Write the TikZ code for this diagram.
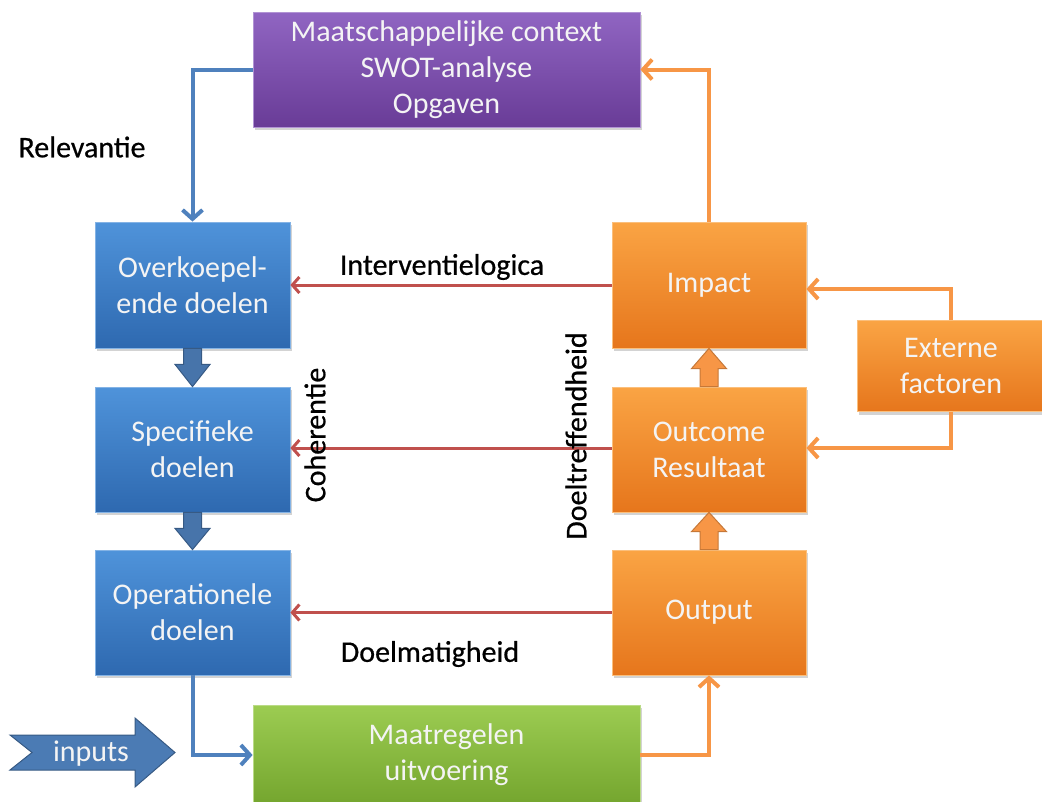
\documentclass[tikz,border=0pt]{standalone}
\usepackage{fontspec}
\setmainfont{Carlito}
\newfontfamily\lblfont[FakeBold=0.6]{Carlito}
\usetikzlibrary{arrows.meta,calc,shadows}
\definecolor{bluetop}{HTML}{4F93DA}
\definecolor{bluebot}{HTML}{2E69B0}
\definecolor{orgtop}{HTML}{FAA444}
\definecolor{orgbot}{HTML}{E6761C}
\definecolor{purtop}{HTML}{9065C2}
\definecolor{purbot}{HTML}{693C97}
\definecolor{grntop}{HTML}{9CCC52}
\definecolor{grnbot}{HTML}{74A52E}
\definecolor{bluecon}{HTML}{4F81BD}
\definecolor{orgcon}{HTML}{F79646}
\definecolor{redcon}{HTML}{C0504D}
\definecolor{boxtext}{HTML}{F4F4F4}
\begin{document}
\begin{tikzpicture}[x=1pt,y=-1pt,
  every node/.style={font=\fontsize{30}{36}\selectfont},
  box/.style={rectangle, align=center, text=boxtext, inner sep=0pt,
    drop shadow={opacity=0.35, shadow xshift=2pt, shadow yshift=-3pt}},
  bluebox/.style={box, top color=bluetop, bottom color=bluebot, draw=bluetop!70!white, line width=0.8pt},
  orgbox/.style={box, top color=orgtop, bottom color=orgbot, draw=orgtop!70!white, line width=0.8pt},
  purbox/.style={box, top color=purtop, bottom color=purbot, draw=purtop!70!white, line width=0.8pt},
  grnbox/.style={box, top color=grntop, bottom color=grnbot, draw=grntop!70!white, line width=0.8pt},
  lbl/.style={text=black, inner sep=0pt, font=\fontsize{30}{36}\selectfont\lblfont},
  tipbig/.style={-{Straight Barb[length=9pt,width=20pt,line width=4pt]}},
  bluelink/.style={draw=bluecon, line width=4pt, tipbig},
  orglink/.style={draw=orgcon, line width=4pt, tipbig},
  redlink/.style={draw=redcon, line width=3pt, -{Straight Barb[length=7pt,width=16pt,line width=3pt]}},
  fatblue/.style={fill=bluecon!90!black, draw=bluecon!70!black, line width=1pt, line join=miter},
  fatorg/.style={fill=orgcon, draw=orgcon!80!black, line width=1pt, line join=miter}
]
\useasboundingbox (0,0) rectangle (1042,801);

% boxes
\node[purbox, minimum width=387pt, minimum height=115pt] (ctx) at (446.5,69.5)
  {Maatschappelijke context\\SWOT-analyse\\Opgaven};
\node[bluebox, minimum width=195pt, minimum height=126pt] (ov) at (192.5,285) {Overkoepel-\\ende doelen};
\node[bluebox, minimum width=195pt, minimum height=125pt] (sp) at (192.5,449.5) {Specifieke\\doelen};
\node[bluebox, minimum width=195pt, minimum height=125pt] (op) at (192.5,612.5) {Operationele\\doelen};
\node[orgbox, minimum width=194pt, minimum height=126pt] (imp) at (709,285) {Impact};
\node[orgbox, minimum width=194pt, minimum height=125pt] (out) at (709,449.5) {Outcome\\Resultaat};
\node[orgbox, minimum width=194pt, minimum height=125pt] (outp) at (709,612.5) {Output};
\node[orgbox, minimum width=188pt, minimum height=91pt] (ext) at (951,366) {Externe\\factoren};
\node[grnbox, minimum width=387pt, minimum height=100pt] (mr) at (446.5,755) {Maatregelen\\uitvoering};

% inputs arrow (notched)
\path[fatblue, fill=bluecon!95!black] (10,735) -- (135,735) -- (135,718) -- (175,752.5) -- (135,787) -- (135,770)
  -- (10,770) -- (32,752.5) -- cycle;
\node[text=boxtext, inner sep=0pt] (inp) at (91,754) {inputs};

% connectors
\draw[bluelink] (ctx.west) -| (ov.north);
\draw[bluelink] (op.south) |- (mr.west);
\draw[orglink] (mr.east) -| (outp.south);
\draw[orglink] (imp.north) |- (ctx.east);
\draw[orglink] (ext.north) |- ($(imp.east)+(0,4)$);
\draw[orglink] (ext.south) |- ($(out.east)+(0,-1.5)$);
\draw[redlink] (imp.west) -- (ov.east);
\draw[redlink] ($(out.west)+(0,-1.5)$) -- ($(sp.east)+(0,-1.5)$);
\draw[redlink] (outp.west) -- (op.east);

% fat arrows
\path[fatblue] ($(ov.south)+(-9,0)$) -- ($(ov.south)+(-9,16)$) -- ($(ov.south)+(-17.5,16)$) -- (sp.north)
  -- ($(ov.south)+(17.5,16)$) -- ($(ov.south)+(9,16)$) -- ($(ov.south)+(9,0)$) -- cycle;
\path[fatblue] ($(sp.south)+(-9,0)$) -- ($(sp.south)+(-9,16)$) -- ($(sp.south)+(-17.5,16)$) -- (op.north)
  -- ($(sp.south)+(17.5,16)$) -- ($(sp.south)+(9,16)$) -- ($(sp.south)+(9,0)$) -- cycle;
\path[fatorg] ($(out.north)+(-9,0)$) -- ($(out.north)+(-9,-18)$) -- ($(out.north)+(-17.5,-18)$) -- (imp.south)
  -- ($(out.north)+(17.5,-18)$) -- ($(out.north)+(9,-18)$) -- ($(out.north)+(9,0)$) -- cycle;
\path[fatorg] ($(outp.north)+(-9,0)$) -- ($(outp.north)+(-9,-18)$) -- ($(outp.north)+(-17.5,-18)$) -- (out.south)
  -- ($(outp.north)+(17.5,-18)$) -- ($(outp.north)+(9,-18)$) -- ($(outp.north)+(9,0)$) -- cycle;

% labels
\node[lbl] (lrel) at (82,147) {Relevantie};
\node[lbl] (lint) at (442,267) {Interventielogica};
\node[lbl] (ldm) at (430,654) {Doelmatigheid};
\node[lbl, rotate=90] (lcoh) at (315,435) {Coherentie};
\node[lbl, rotate=90] (ldt) at (576,436) {Doeltreffendheid};
\end{tikzpicture}
\end{document}
